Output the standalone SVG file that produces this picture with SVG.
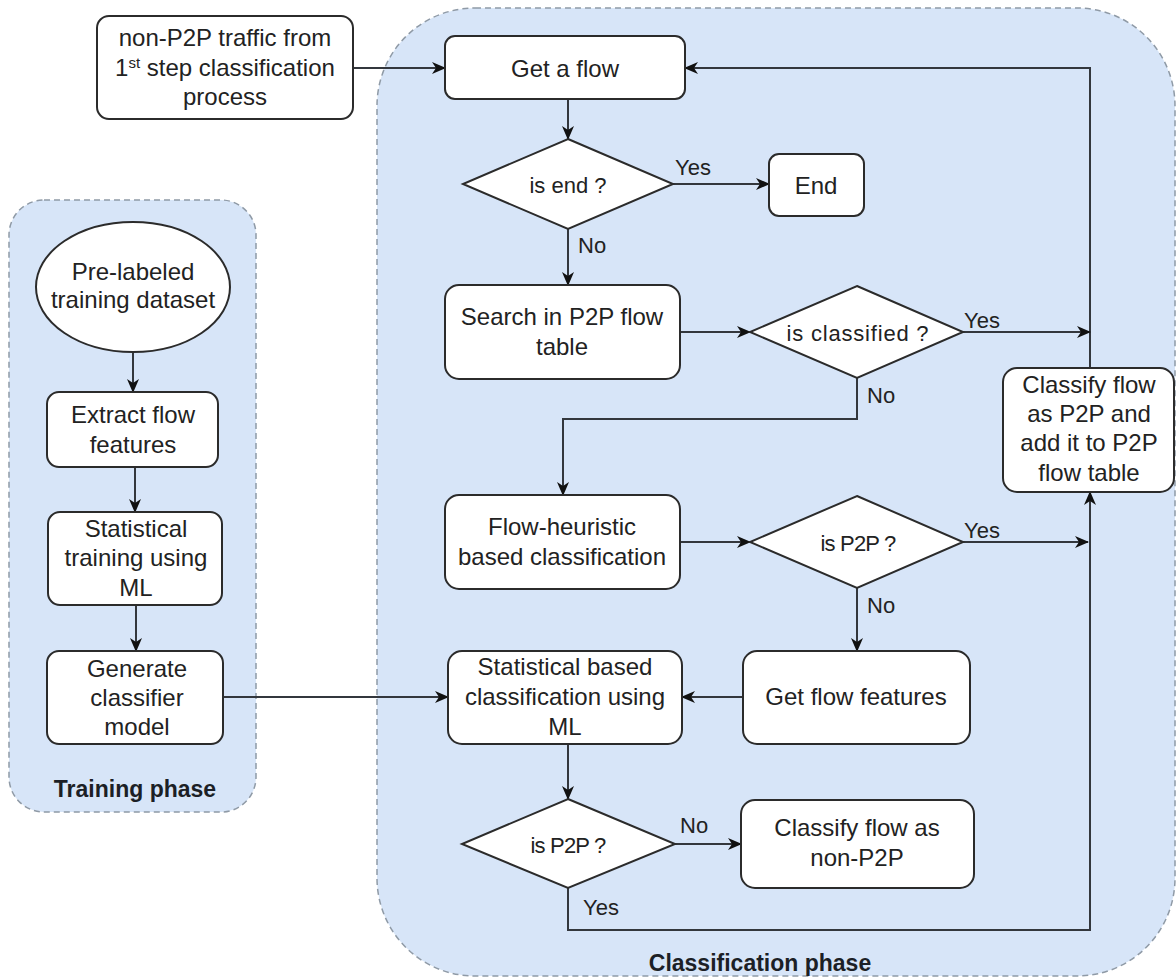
<svg xmlns="http://www.w3.org/2000/svg" width="1176" height="978" viewBox="0 0 1176 978">
  <style>
    .lane { fill: #d7e5f8; stroke: #8f9aa6; stroke-width: 1.5; stroke-dasharray: 6 4; }
    .box { fill: #ffffff; stroke: #2b2b2b; stroke-width: 2; }
    .dia { fill: #ffffff; stroke: #2b2b2b; stroke-width: 2; }
    .t { font-family: "Liberation Sans", Arial, Helvetica, sans-serif; font-size: 24px; fill: #222222; text-anchor: middle; }
    .d { font-family: "Liberation Sans", Arial, Helvetica, sans-serif; font-size: 22px; fill: #222222; text-anchor: middle; }
    .lbl { font-family: "Liberation Sans", Arial, Helvetica, sans-serif; font-size: 22px; fill: #222222; }
    .phase { font-family: "Liberation Sans", Arial, Helvetica, sans-serif; font-size: 23px; font-weight: bold; fill: #1c1f26; text-anchor: middle; }
    .edge { fill: none; stroke: #33373d; stroke-width: 2; }
  </style>
  <defs>
    <marker id="arrow" viewBox="0 0 14 12" refX="13" refY="6" markerWidth="14" markerHeight="12" markerUnits="userSpaceOnUse" orient="auto">
      <path d="M0,0 L14,6 L0,12 L4,6 Z" fill="#111111"/>
    </marker>
  </defs>

  <rect width="1176" height="978" fill="#ffffff"/>

  <!-- swimlanes -->
  <g id="lane-training">
    <rect class="lane" x="9" y="200" width="247" height="612" rx="35" ry="35"/>
    <text class="phase" x="135" y="797">Training phase</text>
  </g>
  <g id="lane-classification">
    <rect class="lane" x="377" y="8" width="798" height="968" rx="98" ry="98"/>
    <text class="phase" x="760" y="971">Classification phase</text>
  </g>

  <!-- connectors -->
  <g id="connectors">
    <path class="edge" d="M353,68 L445,68" marker-end="url(#arrow)"/>
    <path class="edge" d="M1090,368 L1090,68 L685,68" marker-end="url(#arrow)"/>
    <path class="edge" d="M568,99 L568,139" marker-end="url(#arrow)"/>
    <path class="edge" d="M673,184 L769,184" marker-end="url(#arrow)"/>
    <path class="edge" d="M568,229 L568,285" marker-end="url(#arrow)"/>
    <path class="edge" d="M680,332 L750,332" marker-end="url(#arrow)"/>
    <path class="edge" d="M963,332 L1090,332" marker-end="url(#arrow)"/>
    <path class="edge" d="M857,378 L857,419 L563,419 L563,495" marker-end="url(#arrow)"/>
    <path class="edge" d="M680,542 L750,542" marker-end="url(#arrow)"/>
    <path class="edge" d="M963,542 L1088,542" marker-end="url(#arrow)"/>
    <path class="edge" d="M857,588 L857,651" marker-end="url(#arrow)"/>
    <path class="edge" d="M743,697 L682,697" marker-end="url(#arrow)"/>
    <path class="edge" d="M223,697 L448,697" marker-end="url(#arrow)"/>
    <path class="edge" d="M568,744 L568,799" marker-end="url(#arrow)"/>
    <path class="edge" d="M675,844 L741,844" marker-end="url(#arrow)"/>
    <path class="edge" d="M568,888 L568,930 L1090,930 L1090,492" marker-end="url(#arrow)"/>
    <path class="edge" d="M133,352 L133,392" marker-end="url(#arrow)"/>
    <path class="edge" d="M135,467 L135,512" marker-end="url(#arrow)"/>
    <path class="edge" d="M136,605 L136,651" marker-end="url(#arrow)"/>

    <text class="lbl" x="675" y="175">Yes</text>
    <text class="lbl" x="578" y="253">No</text>
    <text class="lbl" x="964" y="328">Yes</text>
    <text class="lbl" x="867" y="403">No</text>
    <text class="lbl" x="964" y="538">Yes</text>
    <text class="lbl" x="867" y="613">No</text>
    <text class="lbl" x="680" y="833">No</text>
    <text class="lbl" x="583" y="915">Yes</text>
  </g>

  <!-- training phase nodes -->
  <g id="dataset">
    <ellipse class="box" cx="133" cy="287" rx="97" ry="65"/>
    <text class="t" x="133" y="280">Pre-labeled</text>
    <text class="t" x="133" y="308">training dataset</text>
  </g>
  <g id="extract">
    <rect class="box" x="47" y="392" width="171" height="75" rx="12"/>
    <text class="t" x="133" y="423">Extract flow</text>
    <text class="t" x="133" y="453">features</text>
  </g>
  <g id="train">
    <rect class="box" x="48" y="512" width="174" height="93" rx="12"/>
    <text class="t" x="136" y="537">Statistical</text>
    <text class="t" x="136" y="566">training using</text>
    <text class="t" x="136" y="596">ML</text>
  </g>
  <g id="generate">
    <rect class="box" x="47" y="651" width="176" height="93" rx="12"/>
    <text class="t" x="137" y="677">Generate</text>
    <text class="t" x="137" y="706">classifier</text>
    <text class="t" x="137" y="735">model</text>
  </g>

  <!-- classification phase nodes -->
  <g id="source">
    <rect class="box" x="97" y="16" width="256" height="103" rx="12"/>
    <text class="t" x="225" y="46">non-P2P traffic from</text>
    <text class="t" x="225" y="76">1<tspan font-size="15" dy="-8">st</tspan><tspan dy="8"> step classification</tspan></text>
    <text class="t" x="225" y="105">process</text>
  </g>
  <g id="get-flow">
    <rect class="box" x="445" y="36" width="240" height="63" rx="10"/>
    <text class="t" x="565" y="77">Get a flow</text>
  </g>
  <g id="is-end">
    <polygon class="dia" points="568,139 673,184 568,229 463,184"/>
    <text class="d" x="568" y="193">is end ?</text>
  </g>
  <g id="end">
    <rect class="box" x="769" y="154" width="95" height="62" rx="10"/>
    <text class="t" x="816" y="194">End</text>
  </g>
  <g id="search">
    <rect class="box" x="445" y="285" width="235" height="94" rx="14"/>
    <text class="t" x="562" y="325">Search in P2P flow</text>
    <text class="t" x="562" y="355">table</text>
  </g>
  <g id="is-classified">
    <polygon class="dia" points="857,286 963,332 857,378 750,332"/>
    <text class="d" x="858" y="341" letter-spacing="0.8">is classified ?</text>
  </g>
  <g id="classify-p2p">
    <rect class="box" x="1003" y="368" width="171" height="124" rx="14"/>
    <text class="t" x="1089" y="393">Classify flow</text>
    <text class="t" x="1089" y="422">as P2P and</text>
    <text class="t" x="1089" y="451">add it to P2P</text>
    <text class="t" x="1089" y="481">flow table</text>
  </g>
  <g id="heuristic">
    <rect class="box" x="445" y="495" width="235" height="94" rx="14"/>
    <text class="t" x="562" y="535">Flow-heuristic</text>
    <text class="t" x="562" y="565">based classification</text>
  </g>
  <g id="is-p2p-heuristic">
    <polygon class="dia" points="857,496 963,542 857,588 750,542"/>
    <text class="d" x="858" y="551" letter-spacing="-0.8">is P2P ?</text>
  </g>
  <g id="get-features">
    <rect class="box" x="743" y="651" width="227" height="93" rx="14"/>
    <text class="t" x="856" y="705">Get flow features</text>
  </g>
  <g id="statistical">
    <rect class="box" x="448" y="651" width="234" height="93" rx="14"/>
    <text class="t" x="565" y="675">Statistical based</text>
    <text class="t" x="565" y="705">classification using</text>
    <text class="t" x="565" y="735">ML</text>
  </g>
  <g id="is-p2p-statistical">
    <polygon class="dia" points="568,799 675,844 568,888 462,844"/>
    <text class="d" x="568" y="853" letter-spacing="-0.8">is P2P ?</text>
  </g>
  <g id="non-p2p">
    <rect class="box" x="741" y="800" width="233" height="88" rx="14"/>
    <text class="t" x="857" y="836">Classify flow as</text>
    <text class="t" x="857" y="866">non-P2P</text>
  </g>
</svg>
